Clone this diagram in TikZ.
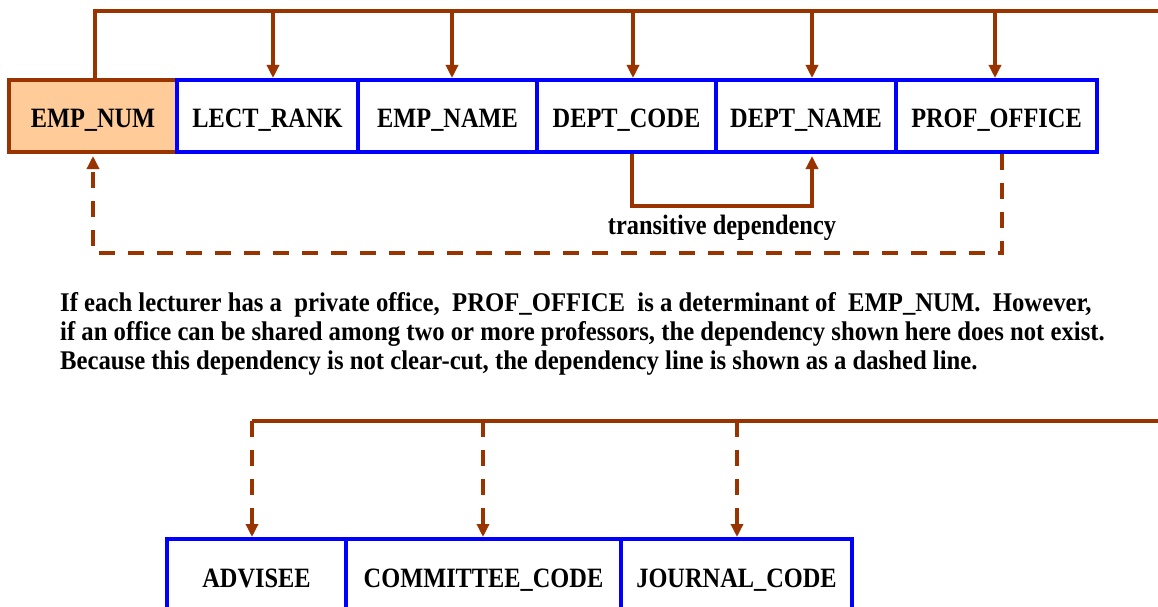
\documentclass[tikz,border=0pt]{standalone}
\usepackage{fontspec}
\setmainfont{Liberation Serif}[FakeStretch=0.87]
\newfontfamily\notefont{Liberation Serif}[FakeStretch=0.915]
\usetikzlibrary{arrows.meta}
\definecolor{depbrown}{HTML}{993300}
\definecolor{keyfill}{HTML}{FFCC99}
\definecolor{attrblue}{HTML}{0000FF}
\tikzset{
  attr/.style={draw=attrblue, line width=4pt, minimum height=72pt, inner sep=0pt,
    text height=24pt, text depth=0pt,
    font=\fontsize{28}{30}\selectfont\bfseries},
  keyattr/.style={attr, draw=depbrown, fill=keyfill},
  depline/.style={draw=depbrown, line width=3.5pt},
  deparrow/.style={depline, -{Triangle[width=12pt,length=13pt]}},
  dashdep/.style={deparrow, dash pattern=on 16pt off 13pt},
  note/.style={font=\notefont\fontsize{27}{30}\selectfont\bfseries, inner sep=0pt, anchor=base west},
}
\begin{document}
\begin{tikzpicture}[x=1pt,y=-1pt]
\useasboundingbox (0,0) rectangle (1158,607);

% lecturer attributes
\node[keyattr, minimum width=168pt] (empnum) at (93,116) {EMP\_NUM};
\node[attr, minimum width=181pt] (lect) at (267.5,116) {LECT\_RANK};
\node[attr, minimum width=179pt] (ename) at (447.5,116) {EMP\_NAME};
\node[attr, minimum width=179pt] (dcode) at (626.5,116) {DEPT\_CODE};
\node[attr, minimum width=180pt] (dname) at (806,116) {DEPT\_NAME};
\node[attr, minimum width=201pt] (office) at (996.5,116) {PROF\_OFFICE};

% functional dependency bus from the key
\coordinate (busL) at (95,11);
\coordinate (busR) at (1160,11);
\draw[depline] (busL |- empnum.north) -- (busL) -- (busR);
\foreach \name/\xx in {lect/273, ename/452, dcode/633, dname/812, office/995}
  \draw[deparrow] (\xx,11) -- (\xx,11 |- \name.north);

% transitive dependency
\coordinate (tA) at (632,206);
\coordinate (tB) at (812,206);
\draw[deparrow] (tA |- dcode.south) -- (tA) -- (tB) -- ([yshift=-2pt]tB |- dname.south);
\node[font=\fontsize{28}{30}\selectfont\bfseries, inner sep=0pt, anchor=base] (trans) at (722,234) {transitive dependency};

% uncertain dependency PROF_OFFICE -> EMP_NUM
\coordinate (dR) at (1002,253);
\coordinate (dL) at (93,253);
\draw[dashdep] (dR |- office.south) -- (dR) -- (dL) -- ([yshift=-2pt]dL |- empnum.south);

% explanation
\node[note] (l1) at (60,311) {If each lecturer has a\ \ private office,\ \ PROF\_OFFICE\ \ is a determinant of\ \ EMP\_NUM.\ \ However,};
\node[note] (l2) at (60,340) {if an office can be shared among two or more professors, the dependency shown here does not exist.};
\node[note] (l3) at (60,369) {Because this dependency is not clear-cut, the dependency line is shown as a dashed line.};

% multivalued attributes
\node[attr, minimum width=179pt] (adv) at (256.5,575) {ADVISEE};
\node[attr, minimum width=275pt] (comm) at (483.5,575) {COMMITTEE\_CODE};
\node[attr, minimum width=231pt] (jour) at (736.5,575) {JOURNAL\_CODE};

\coordinate (bL) at (252,421);
\coordinate (bR) at (1160,421);
\draw[depline] (bL) -- (bR);
\foreach \name/\xx in {adv/252, comm/483, jour/737}
  \draw[dashdep] (\xx,421) -- (\xx,421 |- \name.north);
\end{tikzpicture}
\end{document}
